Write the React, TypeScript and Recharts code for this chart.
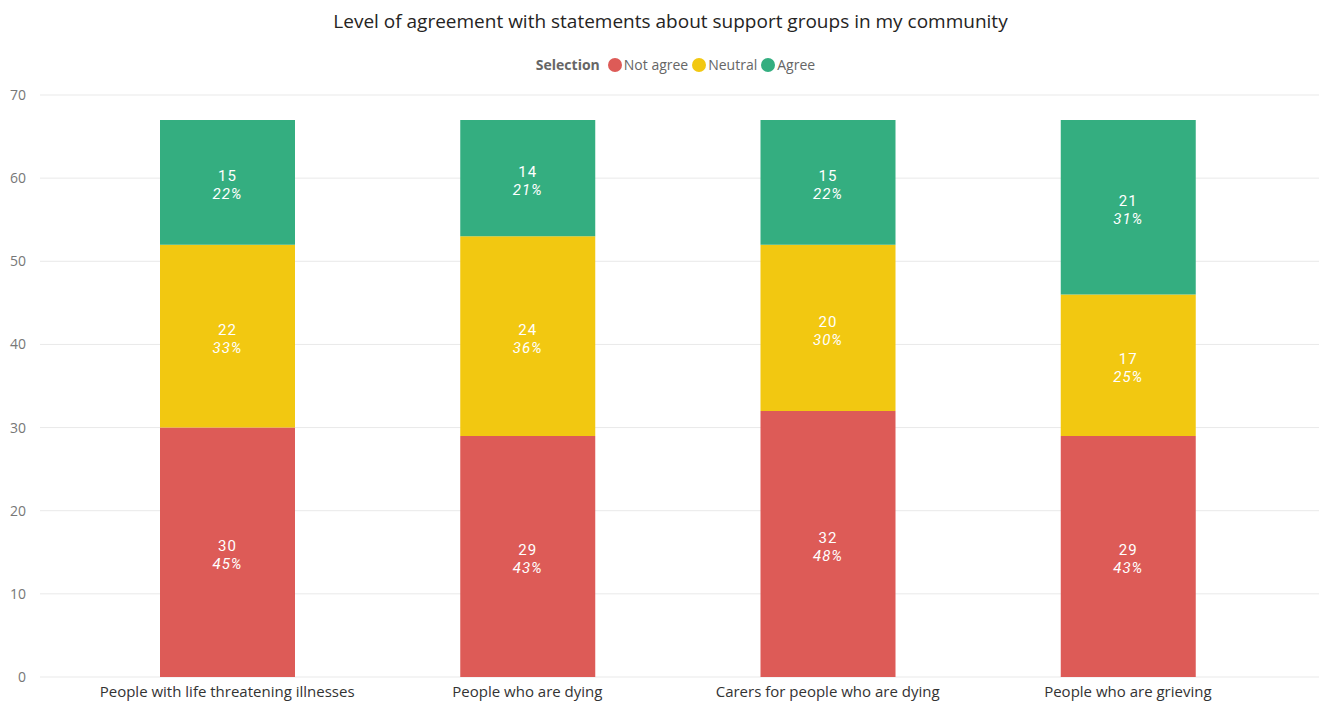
import React from "react";
import { BarChart, Bar, XAxis, YAxis, CartesianGrid, LabelList } from "recharts";

const categories = [
  "People with life threatening illnesses",
  "People who are dying",
  "Carers for people who are dying",
  "People who are grieving",
];
const notAgree = [30, 29, 32, 29];
const neutral = [22, 24, 20, 17];
const agree = [15, 14, 15, 21];
const notAgreePct = ["45%", "43%", "48%", "43%"];
const neutralPct = ["33%", "36%", "30%", "25%"];
const agreePct = ["22%", "21%", "22%", "31%"];
const yTicks = [0, 10, 20, 30, 40, 50, 60, 70];

const COLORS = { notAgree: "#DD5B57", neutral: "#F2C811", agree: "#34AE80" };

const data = categories.map((c, i) => ({
  name: c,
  notAgree: notAgree[i],
  neutral: neutral[i],
  agree: agree[i],
}));

const makeLabel = (pcts: string[]) => (props: any) => {
  const { x, y, width, height, index, value } = props;
  const cx = x + width / 2;
  const cy = y + height / 2;
  return (
    <g>
      <text x={cx} y={cy - 6} fill="#fff" textAnchor="middle" dominantBaseline="central"
        style={{ fontFamily: "Roboto, 'DejaVu Sans', sans-serif", fontSize: 15, letterSpacing: 1 }}>
        {value}
      </text>
      <text x={cx} y={cy + 12} fill="#fff" textAnchor="middle" dominantBaseline="central"
        style={{ fontFamily: "Roboto, 'DejaVu Sans', sans-serif", fontSize: 15, fontStyle: "italic", letterSpacing: 1 }}>
        {pcts[index]}
      </text>
    </g>
  );
};

const legendItems = [
  { label: "Not agree", color: COLORS.notAgree },
  { label: "Neutral", color: COLORS.neutral },
  { label: "Agree", color: COLORS.agree },
];

const CustomLegend = () => (
  <div style={{ position: "absolute", top: 55, left: 16, width: 1319, display: "flex", justifyContent: "center", alignItems: "center", fontFamily: "'Open Sans', 'Noto Sans', sans-serif", fontSize: 14, color: "#666", lineHeight: "20px" }}>
    <span style={{ fontWeight: 700, marginRight: 8 }}>Selection</span>
    {legendItems.map((it, i) => (
      <span key={it.label} style={{ display: "inline-flex", alignItems: "center", marginRight: i < legendItems.length - 1 ? 4 : 0 }}>
        <span style={{ width: 14, height: 14, borderRadius: 7, background: it.color, display: "inline-block", marginRight: 2 }} />
        {it.label}
      </span>
    ))}
  </div>
);

export default function App() {
  return (
    <div style={{ position: "absolute", left: 0, top: 0, width: 1319, height: 702, background: "#fff" }}>
      <div style={{ position: "absolute", top: 8, left: 0, width: 1341, textAlign: "center", fontFamily: "'Open Sans', 'Noto Sans', sans-serif", fontSize: 19, color: "#252423" }}>
        Level of agreement with statements about support groups in my community
      </div>
      <CustomLegend />
      <BarChart width={1319} height={702} data={data} margin={{ top: 95, right: 0, left: 0, bottom: 0 }}>
        <CartesianGrid vertical={false} stroke="#E9E9E9" strokeWidth={1} />
        <XAxis dataKey="name" axisLine={false} tickLine={false} height={25} tickSize={0} tickMargin={9}
          padding={{ left: 37, right: 41 }} interval={0}
          tick={{ fill: "#333", fontSize: 15, fontFamily: "'Open Sans', 'Noto Sans', sans-serif" }} />
        <YAxis domain={[0, 70]} ticks={yTicks} axisLine={false} tickLine={false} width={40} tickSize={0} tickMargin={14}
          tick={{ fill: "#777", fontSize: 14, fontFamily: "'Open Sans', 'Noto Sans', sans-serif" }} />
        <Bar dataKey="notAgree" stackId="a" fill={COLORS.notAgree} barSize={135} isAnimationActive={false}>
          <LabelList dataKey="notAgree" content={makeLabel(notAgreePct)} />
        </Bar>
        <Bar dataKey="neutral" stackId="a" fill={COLORS.neutral} barSize={135} isAnimationActive={false}>
          <LabelList dataKey="neutral" content={makeLabel(neutralPct)} />
        </Bar>
        <Bar dataKey="agree" stackId="a" fill={COLORS.agree} barSize={135} isAnimationActive={false}>
          <LabelList dataKey="agree" content={makeLabel(agreePct)} />
        </Bar>
      </BarChart>
    </div>
  );
}
